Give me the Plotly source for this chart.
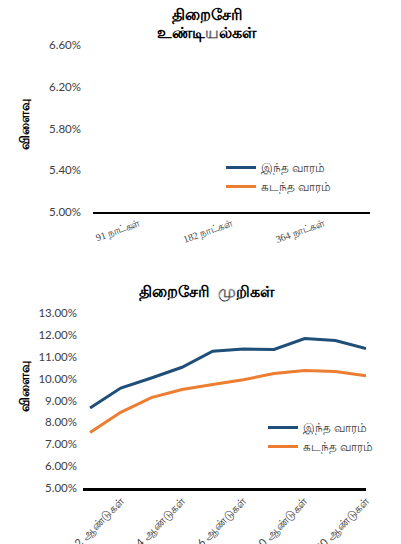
import plotly.graph_objects as go

# ---- data ----
bill_categories = ["91 நாட்கள்", "182 நாட்கள்", "364 நாட்கள்"]
bill_this_week = [None, None, None]
bill_last_week = [None, None, None]
bill_yticks = [5.0, 5.4, 5.8, 6.2, 6.6]

bond_categories = ["<1 ஆண்டுகள்", "<2 ஆண்டுகள்", "<3 ஆண்டுகள்", "<4 ஆண்டுகள்",
                   "<5 ஆண்டுகள்", "<6 ஆண்டுகள்", "<8 ஆண்டுகள்", "<10 ஆண்டுகள்",
                   "<15 ஆண்டுகள்", "<20 ஆண்டுகள்"]
bond_tick_labels = ["<2 ஆண்டுகள்", "<4 ஆண்டுகள்", "<6 ஆண்டுகள்", "<10 ஆண்டுகள்", "<20 ஆண்டுகள்"]
bond_this_week = [8.66, 9.57, 10.03, 10.52, 11.25, 11.35, 11.33, 11.83, 11.74, 11.38]
bond_last_week = [7.54, 8.46, 9.13, 9.50, 9.73, 9.95, 10.23, 10.37, 10.33, 10.13]
bond_yticks = [5, 6, 7, 8, 9, 10, 11, 12, 13]

series_names = ["இந்த வாரம்", "கடந்த வாரம்"]
colors = ["#1F4E79", "#ED7D31"]

W, H = 401, 544
def px(x):
    return x / W
def py(y):
    return 1 - y / H

fig = go.Figure()

# top chart (no data, legend only)
for name, vals, c in zip(series_names, [bill_this_week, bill_last_week], colors):
    fig.add_trace(go.Scatter(x=bill_categories, y=vals, name=name, mode="lines",
                             line=dict(color=c, width=3), xaxis="x", yaxis="y",
                             legend="legend", showlegend=True))

# bottom chart
for name, vals, c in zip(series_names, [bond_this_week, bond_last_week], colors):
    fig.add_trace(go.Scatter(x=bond_categories, y=vals, name=name, mode="lines",
                             line=dict(color=c, width=3), xaxis="x2", yaxis="y2",
                             legend="legend2", showlegend=True))

tick_font = dict(family="Lato, Liberation Sans, sans-serif", size=11.5, color="#404040")

fig.update_layout(
    width=W, height=H,
    margin=dict(l=0, r=0, t=0, b=0, autoexpand=False),
    paper_bgcolor="white", plot_bgcolor="white",
    font=dict(family="Lato, Liberation Sans, sans-serif", color="#404040"),
    xaxis=dict(domain=[px(93), px(370)], anchor="y", type="category", automargin=False,
               categoryorder="array", categoryarray=bill_categories,
               range=[-0.5, 2.5], showgrid=False, zeroline=False,
               showline=True, linecolor="#000000", linewidth=1.5,
               ticks="", tickangle=-20,
               tickfont=dict(family="Liberation Serif, serif", size=10, color="#404040")),
    yaxis=dict(domain=[py(212), py(45)], anchor="x", range=[5.0, 6.6], automargin=False,
               tickvals=bill_yticks, ticktext=[f"{v:.2f}%" for v in bill_yticks],
               showgrid=False, zeroline=False, showline=False, ticks="",
               tickfont=tick_font, ticklabelstandoff=11),
    xaxis2=dict(domain=[px(83), px(366)], anchor="y2", type="category", automargin=False,
                categoryorder="array", categoryarray=bond_categories,
                range=[-0.23, 9.0], showgrid=False, zeroline=False,
                showline=True, linecolor="#000000", linewidth=2.5,
                tickvals=bond_categories[1::2], ticktext=bond_tick_labels,
                ticks="", tickangle=-45, ticklabelstandoff=0,
                tickfont=dict(family="Lato, Liberation Sans, sans-serif", size=11, color="#404040")),
    yaxis2=dict(domain=[py(488), py(313)], anchor="x2", range=[5, 13], automargin=False,
                tickvals=bond_yticks, ticktext=[f"{v:.2f}%" for v in bond_yticks],
                showgrid=False, zeroline=False, showline=False, ticks="",
                tickfont=tick_font, ticklabelstandoff=5),
    legend=dict(x=px(221), y=py(153), xanchor="left", yanchor="top",
                bgcolor="rgba(0,0,0,0)", tracegroupgap=0,
                font=dict(size=12, color="#404040")),
    legend2=dict(x=px(263), y=py(413), xanchor="left", yanchor="top",
                 bgcolor="rgba(0,0,0,0)", tracegroupgap=0,
                 font=dict(size=12, color="#404040")),
    annotations=[
        dict(text="<b>திறைசேரி</b>", x=px(207), y=py(15), xref="paper", yref="paper",
             xanchor="center", yanchor="middle", showarrow=False,
             font=dict(size=15.5, color="#000000")),
        dict(text="<b>உண்டியல்கள்</b>", x=px(207), y=py(33), xref="paper", yref="paper",
             xanchor="center", yanchor="middle", showarrow=False,
             font=dict(size=15.5, color="#000000")),
        dict(text="<b>திறைசேரி  முறிகள்</b>", x=px(207), y=py(292), xref="paper", yref="paper",
             xanchor="center", yanchor="middle", showarrow=False,
             font=dict(size=15.5, color="#000000")),
        dict(text="<b>விளைவு</b>", x=px(24), y=py(125), xref="paper", yref="paper",
             xanchor="center", yanchor="middle", showarrow=False, textangle=-90,
             font=dict(size=13, color="#000000")),
        dict(text="<b>விளைவு</b>", x=px(24), y=py(387), xref="paper", yref="paper",
             xanchor="center", yanchor="middle", showarrow=False, textangle=-90,
             font=dict(size=13, color="#000000")),
    ],
)

fig.write_html("out.html", config={"displayModeBar": False},
               post_script="document.body.style.margin='0';document.body.style.overflow='hidden';")
